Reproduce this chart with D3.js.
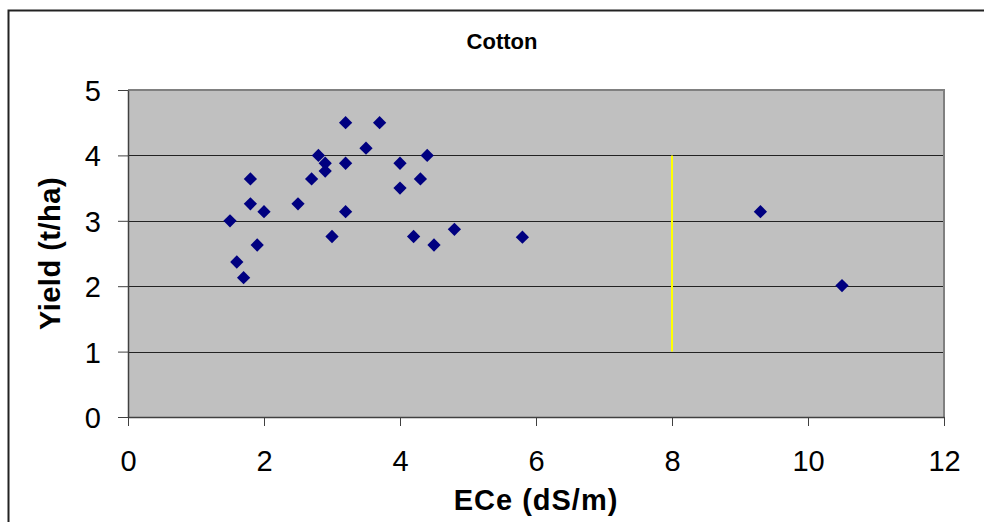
<!DOCTYPE html>
<html>
<head>
<meta charset="utf-8">
<script src="https://cdn.jsdelivr.net/npm/d3@7"></script>
<style>
  body { margin: 0; background: #fff; }
  svg { display: block; font-family: "Liberation Sans", Arial, sans-serif; }
</style>
</head>
<body>
<div id="chart"></div>
<script>
// readings
const ece = [1.5, 1.6, 1.7, 1.8, 1.8, 1.9, 2.0, 2.5, 2.7, 2.8, 2.9, 2.9, 3.0, 3.2, 3.2, 3.2,
             3.5, 3.7, 4.0, 4.0, 4.2, 4.3, 4.4, 4.5, 4.8, 5.8, 9.3, 10.5];
const yieldVals = [3.0, 2.37, 2.13, 3.64, 3.26, 2.63, 3.14, 3.26, 3.64, 4.0, 3.88, 3.76, 2.76, 4.5, 3.88, 3.14,
                   4.11, 4.5, 3.88, 3.5, 2.76, 3.64, 4.0, 2.63, 2.87, 2.75, 3.14, 2.01];
const xTicks = [0, 2, 4, 6, 8, 10, 12];
const yTicks = [0, 1, 2, 3, 4, 5];
const threshold = { x: 8, y0: 1, y1: 4 };

const width = 984, height = 522
    , margin = { left: 128, top: 90, right: 40, bottom: 105 }
    ;

const svg = d3.select('#chart').append('svg')
    .attr('width', width)
    .attr('height', height);

// outer chart frame, only left and top edges fall inside the picture
svg.append('path')
    .attr('d', `M8.5,${height + 5} V10.5 H${width + 5}`)
    .attr('fill', 'none')
    .attr('stroke', '#222')
    .attr('stroke-width', 2);

const x = d3.scaleLinear().domain([0, 12]).range([margin.left, width - margin.right]);
const y = d3.scaleLinear().domain([0, 5]).range([height - margin.bottom, margin.top]);

svg.append('rect')
    .attr('x', x(0)).attr('y', y(5))
    .attr('width', x(12) - x(0)).attr('height', y(0) - y(5))
    .attr('fill', '#c0c0c0');

// gridlines
svg.append('g')
  .selectAll('line')
  .data(yTicks.filter(d => d > 0 && d < 5))
  .join('line')
    .attr('x1', x(0)).attr('x2', x(12))
    .attr('y1', d => Math.round(y(d)) + 0.5).attr('y2', d => Math.round(y(d)) + 0.5)
    .attr('stroke', '#222');

// plot border (top / right)
svg.append('path')
    .attr('d', `M${x(0)},${y(5)} H${x(12)} V${y(0)}`)
    .attr('fill', 'none')
    .attr('stroke', '#808080')
    .attr('stroke-width', 2);

const xAxis = svg.append('g')
    .attr('transform', `translate(0,${Math.round(y(0))})`)
    .call(d3.axisBottom(x).tickValues(xTicks).tickFormat(d3.format('d'))
      .tickSize(9).tickPadding(24).tickSizeOuter(0));

const yAxis = svg.append('g')
    .attr('transform', `translate(${Math.round(x(0))},0)`)
    .call(d3.axisLeft(y).tickValues(yTicks).tickFormat(d3.format('d'))
      .tickSize(10).tickPadding(17).tickSizeOuter(0));

[xAxis, yAxis].forEach(g => {
  g.select('.domain').attr('stroke', '#404040').attr('stroke-width', 1.5);
  g.selectAll('.tick line').attr('stroke', '#404040');
  g.selectAll('.tick text')
      .attr('font-family', '"Liberation Sans", Arial, sans-serif')
      .attr('font-size', 29)
      .attr('fill', '#000');
});
yAxis.selectAll('.tick text').attr('dy', '0.36em');

// threshold line
svg.append('line')
    .attr('x1', x(threshold.x)).attr('x2', x(threshold.x))
    .attr('y1', y(threshold.y1)).attr('y2', y(threshold.y0))
    .attr('stroke', '#ffff00')
    .attr('stroke-width', 2);

const points = ece.map((v, i) => ({ x: v, y: yieldVals[i] }));

svg.append('g')
  .selectAll('path')
  .data(points)
  .join('path')
    .attr('d', d3.symbol(d3.symbolSquare, 88))
    .attr('transform', d => `translate(${x(d.x)},${y(d.y)}) rotate(45)`)
    .attr('fill', '#000080');

svg.append('text')
    .attr('x', 502).attr('y', 49)
    .attr('text-anchor', 'middle')
    .attr('font-weight', 'bold')
    .attr('font-size', 22)
    .text('Cotton');

svg.append('text')
    .attr('x', (x(0) + x(12)) / 2).attr('y', 510)
    .attr('text-anchor', 'middle')
    .attr('font-weight', 'bold')
    .attr('font-size', 29)
    .attr('letter-spacing', 1)
    .text('ECe (dS/m)');

svg.append('text')
    .attr('transform', `translate(60,${(y(0) + y(5)) / 2}) rotate(-90)`)
    .attr('text-anchor', 'middle')
    .attr('font-weight', 'bold')
    .attr('font-size', 29)
    .attr('letter-spacing', 0.5)
    .text('Yield (t/ha)');
</script>
</body>
</html>
